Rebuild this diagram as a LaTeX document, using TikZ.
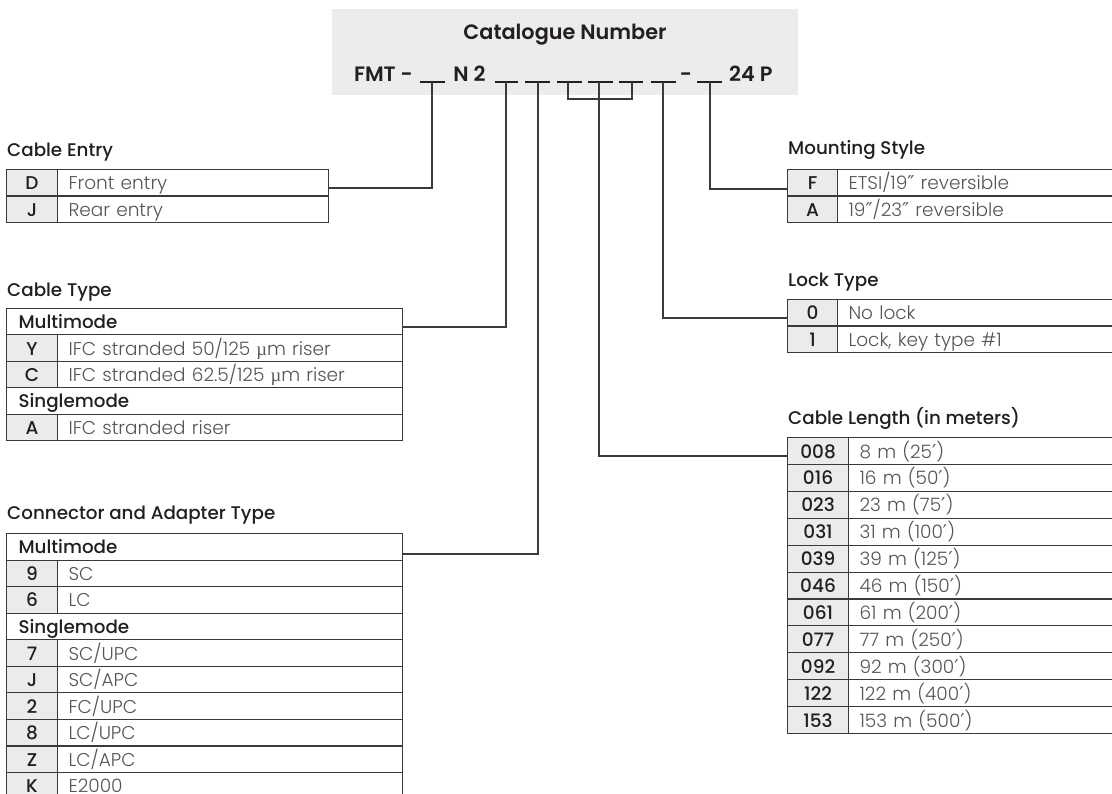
\documentclass[tikz,border=0pt]{standalone}
\usepackage{fontspec}
\setmainfont{Poppins}
\newfontfamily\lightf{Poppins Light}
\newfontfamily\medf{Poppins Medium}
\newfontfamily\semif{Poppins SemiBold}
\newfontfamily\muf{Liberation Serif}
\newfontfamily\symf{DejaVu Sans}
\definecolor{keyg}{HTML}{EBEBEB}
\definecolor{topg}{HTML}{ECECEC}
\definecolor{linec}{HTML}{3A3A3A}
\definecolor{bodyc}{HTML}{555555}
\definecolor{darkc}{HTML}{231F20}
\tikzset{
  cellbase/.style={draw=linec, line width=1.1pt, inner ysep=0pt, text height=18pt, text depth=4pt},
  keycell/.style={cellbase, fill=keyg, inner xsep=0pt, text=darkc, font=\medf\fontsize{18.5}{21}\selectfont},
  desccell/.style={cellbase, fill=white, inner xsep=11pt, align=left, text=bodyc, font=\lightf\fontsize{18.5}{21}\selectfont},
  headcell/.style={cellbase, fill=white, inner xsep=12pt, align=left, text=darkc, font=\medf\fontsize{18.3}{21}\selectfont},
  ttl/.style={anchor=west, inner sep=0pt, text=darkc, font=\medf\fontsize{18.3}{21}\selectfont},
  conn/.style={draw=linec, line width=1.2pt},
  uline/.style={draw=darkc, line width=2pt},
  cattext/.style={inner sep=0pt, text=darkc, font=\semif\fontsize{20.8}{24}\selectfont}
}
\newcommand{\krow}[8]{%
  \pgfmathsetmacro\kw{#3-#2}%
  \pgfmathsetmacro\dw{#4-#3-22}%
  \node[keycell, minimum width=\kw pt, minimum height=#6 pt, anchor=north west] (#1k) at (#2,#5) {#7};
  \node[desccell, text width=\dw pt, minimum height=#6 pt, anchor=north west] (#1d) at (#3,#5) {#8};
}
\newcommand{\hrow}[6]{%
  \pgfmathsetmacro\hw{#3-#2-24}%
  \node[headcell, text width=\hw pt, minimum height=#5 pt, anchor=north west] (#1) at (#2,#4) {#6};
}
\newcommand{\um}{{\muf\char"00B5}m}
\newcommand{\pr}{{\symf\fontsize{19}{21}\selectfont\char"2032}}
\newcommand{\dpr}{{\symf\fontsize{19}{21}\selectfont\char"2033}}
\begin{document}
\begin{tikzpicture}[x=1pt,y=-1pt]
\useasboundingbox (0,0) rectangle (1112,794);

% catalogue box
\node[fill=topg, minimum width=466pt, minimum height=86pt, inner sep=0pt, anchor=north west] (cat) at (332,9) {};
\node[cattext] (cattitle) at (565,35) {Catalogue Number};
\node[cattext, anchor=base east] (fmt) at (413,82) {FMT -};
\node[cattext, anchor=base] (n2) at (469.5,82) {N 2};
\node[cattext, anchor=base] (dash) at (686,82) {-};
\node[cattext, anchor=base west] (p24) at (729,82) {24 P};
\foreach \a/\b [count=\i] in {420/445,495/518,525/550,557/582,588/613,619/643,651/676,697/722}{
  \draw[uline] (\a,82) -- (\b,82);
}
\coordinate (u1) at (432,82);
\coordinate (u2) at (506,82);
\coordinate (u3) at (538,82);
\coordinate (u4) at (568,82);
\coordinate (u5) at (599,82);
\coordinate (u6) at (632,82);
\coordinate (u7) at (663,82);
\coordinate (u8) at (710,82);
\coordinate (b1) at (568,99);
\coordinate (b2) at (632,99);

% Cable Entry
\node[ttl] (tce) at (7,152) {Cable Entry};
\krow{ce1}{6}{57}{328}{169}{26.5}{D}{Front entry}
\krow{ce2}{6}{57}{328}{195.5}{26.5}{J}{Rear entry}

% Cable Type
\node[ttl] (tct) at (7,292) {Cable Type};
\hrow{ct0}{6}{402}{308}{26.4}{Multimode}
\krow{ct1}{6}{57}{402}{334.4}{26.4}{Y}{IFC stranded 50/125 \um\ riser}
\krow{ct2}{6}{57}{402}{360.8}{26.4}{C}{IFC stranded 62.5/125 \um\ riser}
\hrow{ct3}{6}{402}{387.2}{26.4}{Singlemode}
\krow{ct4}{6}{57}{402}{413.6}{26.4}{A}{IFC stranded riser}

% Connector and Adapter Type
\node[ttl] (tca) at (7,515) {Connector and Adapter Type};
\hrow{ca0}{6}{402}{533}{26.55}{Multimode}
\krow{ca1}{6}{57}{402}{559.55}{26.55}{9}{SC}
\krow{ca2}{6}{57}{402}{586.1}{26.55}{6}{LC}
\hrow{ca3}{6}{402}{612.65}{26.55}{Singlemode}
\krow{ca4}{6}{57}{402}{639.2}{26.55}{7}{SC/UPC}
\krow{ca5}{6}{57}{402}{665.75}{26.55}{J}{SC/APC}
\krow{ca6}{6}{57}{402}{692.3}{26.55}{2}{FC/UPC}
\krow{ca7}{6}{57}{402}{718.85}{26.55}{8}{LC/UPC}
\krow{ca8}{6}{57}{402}{745.4}{26.55}{Z}{LC/APC}
\krow{ca9}{6}{57}{402}{771.95}{26.55}{K}{E2000}

% Mounting Style
\node[ttl] (tms) at (788,150) {Mounting Style};
\krow{ms1}{787}{837}{1130}{169}{26.5}{F}{ETSI/19\dpr\ reversible}
\krow{ms2}{787}{837}{1130}{195.5}{26.5}{A}{19\dpr/23\dpr\ reversible}

% Lock Type
\node[ttl] (tlt) at (788,282) {Lock Type};
\krow{lt1}{787}{837}{1130}{299}{26.5}{0}{No lock}
\krow{lt2}{787}{837}{1130}{325.5}{26.5}{1}{Lock, key type \#1}

% Cable Length
\node[ttl] (tcl) at (788,418) {Cable Length (in meters)};
\foreach \k/\d [count=\i from 0] in {008/8 m (25\pr),016/16 m (50\pr),023/23 m (75\pr),031/31 m (100\pr),039/39 m (125\pr),046/46 m (150\pr),061/61 m (200\pr),077/77 m (250\pr),092/92 m (300\pr),122/122 m (400\pr),153/153 m (500\pr)}{
  \pgfmathsetmacro\yy{437+26.9*\i}
  \krow{cl\i}{787}{848}{1130}{\yy}{26.9}{\k}{\d}
}

% connector end points on tables
\coordinate (ceA) at (328,188);
\coordinate (ctA) at (402,327);
\coordinate (caA) at (402,554);
\coordinate (clA) at (787,456);
\coordinate (ltA) at (787,318);
\coordinate (msA) at (787,189);

\draw[conn] (u1) |- (ceA);
\draw[conn] (u2) |- (ctA);
\draw[conn] (u3) |- (caA);
\draw[conn] (u4) -- (b1) -- (b2) -- (u6);
\draw[conn] (u5) |- (clA);
\draw[conn] (u7) |- (ltA);
\draw[conn] (u8) |- (msA);
\end{tikzpicture}
\end{document}
